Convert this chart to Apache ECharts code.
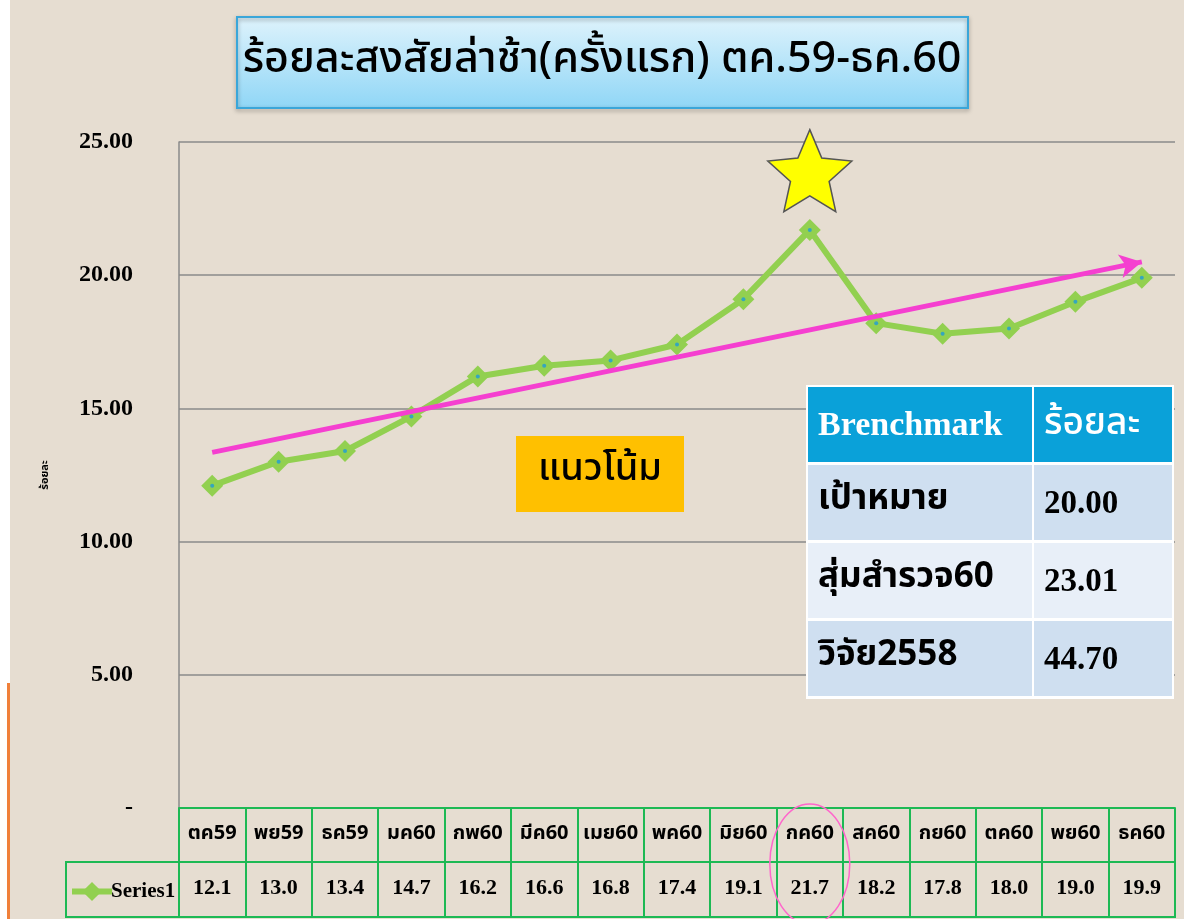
<!DOCTYPE html>
<html><head><meta charset="utf-8">
<script src="https://cdn.jsdelivr.net/npm/echarts@6/dist/echarts.min.js"></script>
<style>html,body{margin:0;padding:0;background:#e6ddd1}#c{width:1184px;height:919px}</style>
</head><body><div id="c"></div>
<script>
const titleText = 'ร้อยละสงสัยล่าช้า(ครั้งแรก) ตค.59-ธค.60';
const categories = ['ตค59','พย59','ธค59','มค60','กพ60','มีค60','เมย60','พค60','มิย60','กค60','สค60','กย60','ตค60','พย60','ธค60'];
const values = [12.1,13.0,13.4,14.7,16.2,16.6,16.8,17.4,19.1,21.7,18.2,17.8,18.0,19.0,19.9];
const seriesName = 'Series1';
const yAxisName = 'ร้อยละ';
const trendStartEnd = [13.35, 20.5];
const starIndex = 9, starValue = 24.0;
const trendLabel = 'แนวโน้ม';
const benchHeader = ['Brenchmark', 'ร้อยละ'];
const benchLabels = ['เป้าหมาย', 'สุ่มสำรวจ60', 'วิจัย2558'];
const benchValues = ['20.00', '23.01', '44.70'];

const THAI = "'Noto Sans Thai','Noto Sans Thai UI','Loma','Tahoma','DejaVu Sans',sans-serif";
const SERIF = "'Liberation Serif','DejaVu Serif',serif";

function starPath() {
  let d = '';
  for (let i = 0; i < 10; i++) {
    const r = i % 2 === 0 ? 1 : 0.46;
    const a = -Math.PI / 2 + i * Math.PI / 5;
    d += (i === 0 ? 'M' : 'L') + (r * Math.cos(a)).toFixed(4) + ' ' + (r * Math.sin(a)).toFixed(4) + ' ';
  }
  return 'path://' + d + 'Z';
}

const chart = echarts.init(document.getElementById('c'));
const green = '#1db954';

const graphics = [];
graphics.push({type:'rect', shape:{x:0,y:0,width:10,height:919}, style:{fill:'#ffffff'}, z:-1});
graphics.push({type:'rect', shape:{x:7,y:683,width:3,height:236}, style:{fill:'#f0803a'}, z:-1});
// title box
graphics.push({type:'rect', shape:{x:237,y:17,width:731,height:91}, z:1,
  style:{fill:new echarts.graphic.LinearGradient(0,0,0,1,[{offset:0,color:'#dff3fc'},{offset:1,color:'#8fd6f6'}]),
  stroke:'#3aa6d9', lineWidth:2, shadowBlur:4, shadowColor:'rgba(0,0,0,0.35)', shadowOffsetY:2}});
graphics.push({type:'text', x:602, y:63, z:2, style:{text:titleText, fill:'#000', font:"500 43px "+THAI, textAlign:'center', textVerticalAlign:'middle'}});
// trend label
graphics.push({type:'rect', shape:{x:516,y:436,width:168,height:76}, style:{fill:'#ffc000'}, z:5});
graphics.push({type:'text', x:600, y:472, z:6, style:{text:trendLabel, fill:'#000', font:"500 38px "+THAI, textAlign:'center', textVerticalAlign:'middle'}});
// benchmark table
const colX = [808, 1034], colW = [224, 138];
const rowY = [387, 465, 543, 621], rowH = 75;
graphics.push({type:'rect', shape:{x:806,y:385,width:368,height:314}, style:{fill:'#ffffff'}, z:5});
for (let r = 0; r < 4; r++) {
  for (let c = 0; c < 2; c++) {
    const fill = r === 0 ? '#0aa1d9' : (r % 2 === 1 ? '#cfdff0' : '#e8eff8');
    graphics.push({type:'rect', shape:{x:colX[c], y:rowY[r], width:colW[c], height:rowH}, style:{fill}, z:6});
    let text, font, color;
    if (r === 0) {
      text = benchHeader[c];
      font = c === 0 ? "bold 34px "+SERIF : "500 37px "+THAI;
      color = '#ffffff';
    } else {
      text = c === 0 ? benchLabels[r-1] : benchValues[r-1];
      font = c === 0 ? "bold 35px "+THAI : "bold 33px "+SERIF;
      color = '#000000';
    }
    graphics.push({type:'text', x:colX[c] + 10, y:rowY[r] + rowH/2 + (c === 0 && r > 0 ? -1 : 2), z:7,
      style:{text, fill:color, font, textAlign:'left', textVerticalAlign:'middle'}});
  }
}
graphics.push({type:'rect', shape:{x:66,y:862,width:113,height:55}, style:{fill:'none', stroke:green, lineWidth:2}, z:3});

const option = {
  backgroundColor: '#e6ddd1',
  animation: false,
  grid: {left:179, right:9, top:142, bottom:111},
  legend: {left:64, top:876, itemWidth:40, itemHeight:24, itemGap:0,
    lineStyle:{width:6},
    textStyle:{fontFamily:SERIF, fontWeight:'bold', fontSize:21, color:'#000', padding:[0,0,0,-6]},
    data:[seriesName]},
  xAxis: [
    {type:'category', data:categories, boundaryGap:true, position:'bottom',
      axisLine:{show:true, lineStyle:{color:green, width:2}},
      axisTick:{show:true, interval:0, length:110, lineStyle:{color:green, width:2}},
      axisLabel:{interval:0, margin:17, color:'#000', fontFamily:THAI, fontWeight:'bold', fontSize:20}},
    {type:'category', data:values.map(v => v.toFixed(1)), boundaryGap:true, position:'bottom', offset:54,
      axisLine:{show:true, lineStyle:{color:green, width:2}},
      axisTick:{show:false},
      axisLabel:{interval:0, margin:15, color:'#000', fontFamily:SERIF, fontWeight:'bold', fontSize:22}},
    {type:'category', data:categories, boundaryGap:true, position:'bottom', offset:109,
      axisLine:{show:true, lineStyle:{color:green, width:2}},
      axisTick:{show:false}, axisLabel:{show:false}}
  ],
  yAxis: {type:'value', min:0, max:25, interval:5,
    name: yAxisName, nameLocation:'middle', nameGap:128, nameRotate:90,
    nameTextStyle:{fontFamily:THAI, fontSize:11, fontWeight:'bold', color:'#000'},
    axisLine:{show:true, lineStyle:{color:'#8a8a8a', width:1.5}},
    axisTick:{show:false},
    splitLine:{show:true, lineStyle:{color:'#8a8a8a', width:1.5}},
    axisLabel:{margin:46, color:'#000', fontFamily:SERIF, fontWeight:'bold', fontSize:24,
      formatter: v => v === 0 ? '-' : v.toFixed(2)}},
  graphic: graphics,
  series: [
    {name:'trend', type:'line', data:[], z:1, silent:true,
      markLine:{silent:true, symbol:['none','arrow'], symbolSize:[18,22], label:{show:false},
        lineStyle:{color:'#f53fd0', width:5, type:'solid'}, itemStyle:{color:'#f53fd0'},
        data:[[{coord:[0, trendStartEnd[0]]},{coord:[categories.length-1, trendStartEnd[1]]}]]}},
    {name:seriesName, type:'line', data:values, z:3,
      lineStyle:{color:'#92d050', width:6},
      itemStyle:{color:'#92d050'},
      symbol:'diamond', symbolSize:[22,22], showSymbol:true,
      markPoint:{silent:true, symbol:starPath(), symbolSize:[84,82], symbolOffset:[0,2], label:{show:false},
        itemStyle:{color:'#ffff00', borderColor:'#555', borderWidth:1.5},
        data:[{coord:[starIndex, starValue]}]}},
    {name:'dots', type:'scatter', data:values, z:4, symbol:'circle', symbolSize:4,
      itemStyle:{color:'#1e9bd8'}, silent:true}
  ]
};
chart.setOption(option);
const px = chart.convertToPixel({xAxisIndex:0}, starIndex);
chart.setOption({graphic: graphics.concat([{type:'ellipse', shape:{cx:px, cy:864, rx:40, ry:60},
  style:{fill:'none', stroke:'#ff66cc', lineWidth:1.5}, z:8}])});
</script></body></html>
